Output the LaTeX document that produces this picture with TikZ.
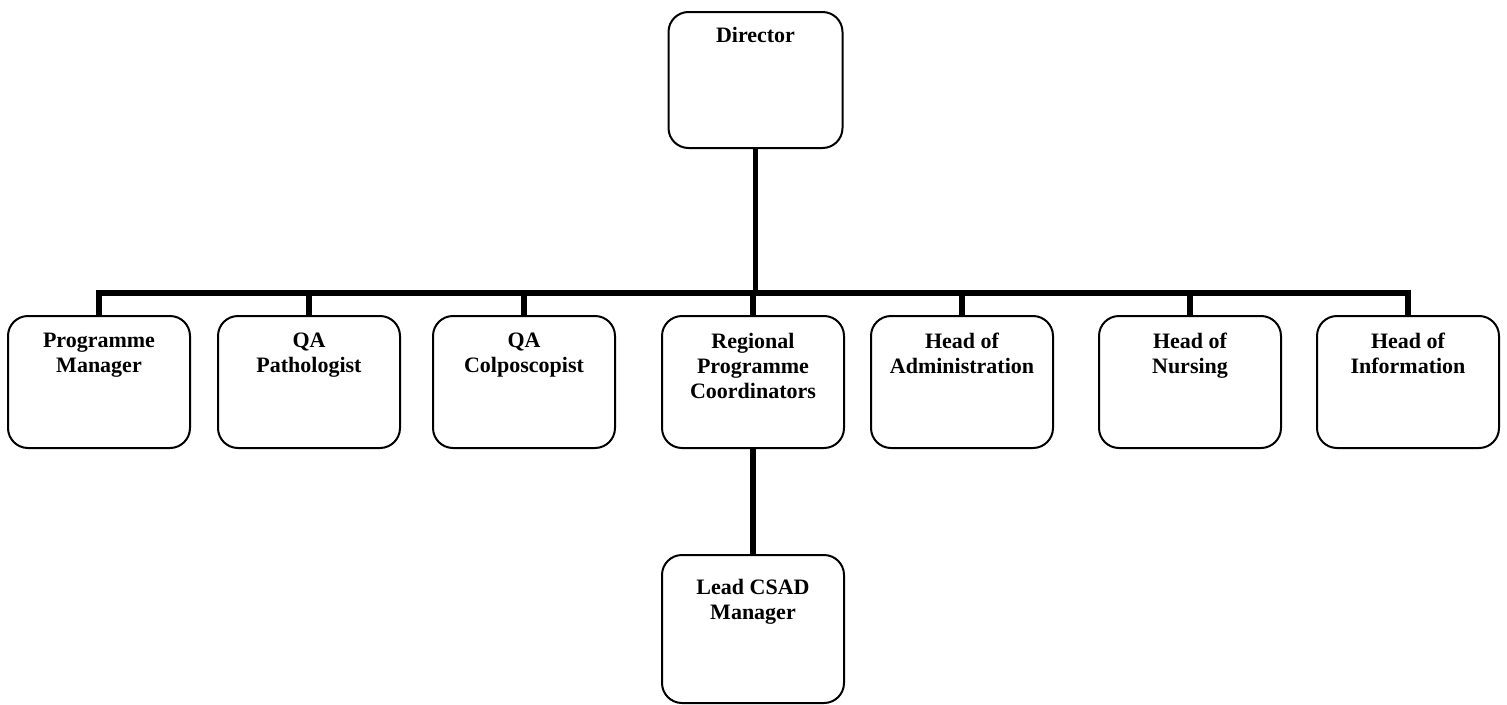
\documentclass[tikz,border=0pt]{standalone}
\usepackage{fontspec}
\setmainfont{Liberation Serif}
\usetikzlibrary{positioning}

\begin{document}
\begin{tikzpicture}[
    x=1pt, y=-1pt,
    orgbox/.style={draw, line width=2pt, rounded corners=20pt, minimum width=182pt, minimum height=132pt, inner sep=0pt, outer sep=0pt},
    title/.style={anchor=north, yshift=-17pt, align=center, inner sep=0pt, font=\fontsize{22pt}{25pt}\selectfont\bfseries},
    link/.style={line width=5.5pt}
]
\useasboundingbox (0,0) rectangle (1507,704);
% top
\node[orgbox, minimum width=174pt, minimum height=136pt, label={[title, yshift=2pt]north:Director}] (dir) at (755.5,80) {};
% second row
\node[orgbox, label={[title]north:Programme\\Manager}] (pm) at (99,382) {};
\node[orgbox, right=28pt of pm, label={[title]north:QA\\Pathologist}] (qap) {};
\node[orgbox, right=33pt of qap, label={[title]north:QA\\Colposcopist}] (qac) {};
\node[orgbox, right=47pt of qac, label={[title]north:Regional\\Programme\\Coordinators}] (rpc) {};
\node[orgbox, right=27pt of rpc, label={[title]north:Head of\\Administration}] (hoa) {};
\node[orgbox, right=46pt of hoa, label={[title]north:Head of\\Nursing}] (hon) {};
\node[orgbox, right=36pt of hon, label={[title]north:Head of\\Information}] (hoi) {};
% bottom
\node[orgbox, minimum height=148pt, below=107pt of rpc, label={[title, yshift=-7pt]north:Lead CSAD\\Manager}] (lead) {};

\coordinate (bus) at (0,293);
\draw[link] (dir.south) -- (dir.south |- bus);
\draw[link] (pm.north) -- (pm |- bus) -- (hoi |- bus) -- (hoi.north);
\foreach \n in {qap,qac,rpc,hoa,hon}
    \draw[link] (\n |- bus) -- (\n.north);
\draw[link] (rpc.south) -- (lead.north);
\end{tikzpicture}
\end{document}
